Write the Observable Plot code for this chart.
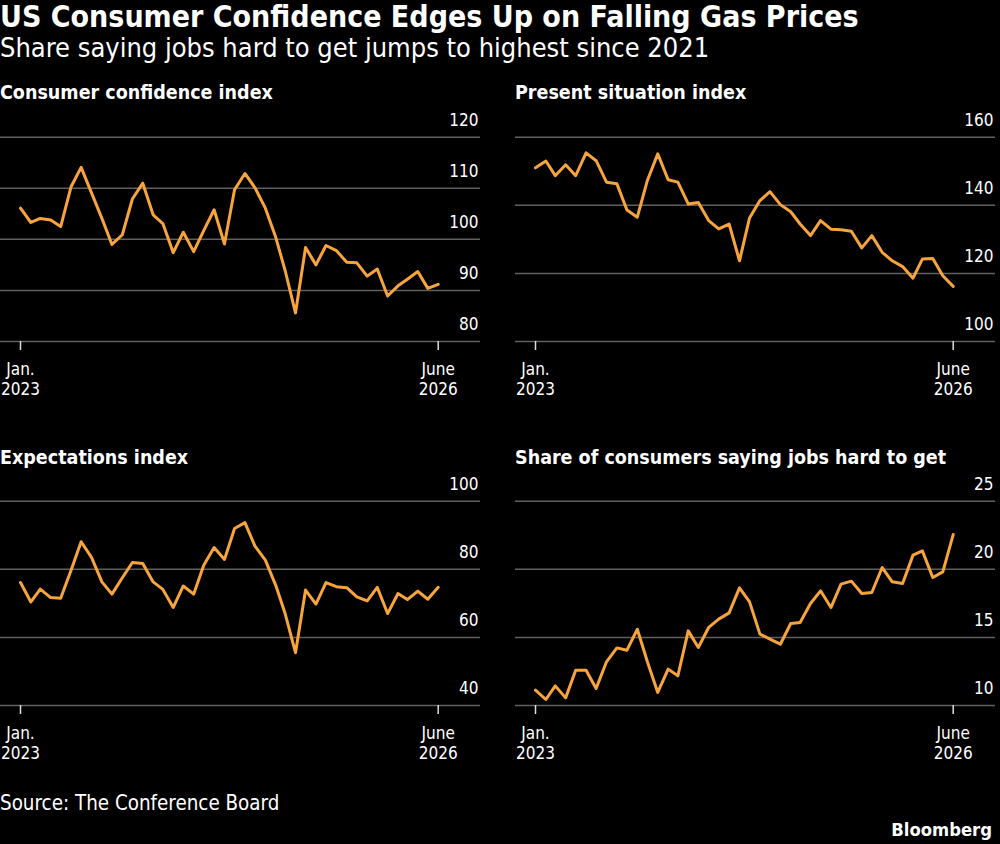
<!DOCTYPE html>
<html>
<head>
<meta charset="utf-8">
<script src="https://cdn.jsdelivr.net/npm/d3@7"></script>
<script src="https://cdn.jsdelivr.net/npm/@observablehq/plot@0.6"></script>
<style>
  html, body { margin: 0; padding: 0; background: #000; }
  body { width: 1000px; height: 844px; position: relative; overflow: hidden;
         font-family: "DejaVu Sans Condensed", "DejaVu Sans", sans-serif; color: #fff; }
  .abs { position: absolute; white-space: nowrap; }
  #title { left: 0; top: 0px; font-size: 30px; font-weight: bold; line-height: 34px; }
  #subtitle { left: 0; top: 32px; font-size: 27px; line-height: 32px; }
  .ptitle { font-size: 19.5px; font-weight: bold; line-height: 24px; }
  #source { left: 0; top: 791px; font-size: 20.4px; line-height: 24px; }
  #brand { right: 8px; top: 819px; font-size: 18.3px; font-weight: bold; line-height: 22px; }
  .panel { position: absolute; }
</style>
</head>
<body>
<div id="title" class="abs">US Consumer Confidence Edges Up on Falling Gas Prices</div>
<div id="subtitle" class="abs">Share saying jobs hard to get jumps to highest since 2021</div>
<div class="abs ptitle" style="left:0;top:81px">Consumer confidence index</div>
<div class="abs ptitle" style="left:515px;top:81px">Present situation index</div>
<div class="abs ptitle" style="left:0;top:446px">Expectations index</div>
<div class="abs ptitle" style="left:515px;top:446px">Share of consumers saying jobs hard to get</div>
<div id="p1" class="panel" style="left:0;top:100px"></div>
<div id="p2" class="panel" style="left:515px;top:100px"></div>
<div id="p3" class="panel" style="left:0;top:464px"></div>
<div id="p4" class="panel" style="left:515px;top:464px"></div>
<div id="source" class="abs">Source: The Conference Board</div>
<div id="brand" class="abs">Bloomberg</div>
<script>
// Monthly observations, Jan. 2023 – June 2026
const months = d3.utcMonth.range(new Date(Date.UTC(2023, 0, 1)), new Date(Date.UTC(2026, 6, 1)));

const confidence = [106.1, 103.3, 104.1, 103.8, 102.5, 110.3, 114.1, 109.1, 104.1, 99.0,
  100.9, 107.9, 111.0, 104.8, 103.1, 97.4, 101.4, 97.6, 101.7, 105.8,
  99.1, 109.7, 112.9, 110.1, 106.1, 100.4, 93.9, 85.6, 98.4, 95.0,
  98.8, 97.8, 95.5, 95.4, 92.8, 94.2, 88.9, 90.9, 92.2, 93.7, 90.4, 91.2];

const presentSituation = [151.0, 153.0, 148.7, 151.9, 148.7, 155.4, 153.1, 146.8, 146.3, 138.6,
  136.5, 147.3, 155.1, 147.5, 146.8, 140.4, 140.8, 135.5, 133.1, 134.5,
  123.7, 136.3, 141.4, 144.0, 140.2, 138.1, 134.5, 131.1, 135.5, 133.0,
  132.8, 132.4, 127.5, 131.1, 126.2, 123.7, 122.0, 118.6, 124.2, 124.4, 119.3, 116.2];

const expectations = [76.1, 70.4, 74.2, 71.7, 71.5, 79.7, 88.1, 83.5, 76.3, 72.7,
  77.5, 82.0, 81.7, 76.3, 74.1, 68.8, 75.1, 72.7, 81.2, 86.4,
  82.9, 92.0, 93.7, 86.8, 82.7, 75.3, 67.0, 55.5, 73.9, 69.8,
  76.1, 74.9, 74.6, 71.9, 70.7, 74.7, 67.0, 72.9, 71.1, 73.6, 71.2, 74.7];

const jobsHardToGet = [11.13, 10.44, 11.44, 10.56, 12.59, 12.59, 11.25, 13.21, 14.23, 14.06,
  15.60, 13.21, 10.96, 12.67, 12.18, 15.48, 14.26, 15.73, 16.34, 16.80,
  18.64, 17.61, 15.24, 14.87, 14.50, 16.02, 16.09, 17.49, 18.42, 17.19,
  18.91, 19.13, 18.22, 18.30, 20.13, 19.08, 18.96, 21.04, 21.35, 19.40, 19.81, 22.55];

const yTicks1 = [80, 90, 100, 110, 120];
const yTicks2 = [100, 120, 140, 160];
const yTicks3 = [40, 60, 80, 100];
const yTicks4 = [10, 15, 20, 25];
const xTicks = [months[0], months[months.length - 1]];
const xTickLabels = ["Jan.\n2023", "June\n2026"];

const LINE = "#f7a43c";
const GRID = "#606060";
const FONT = '"DejaVu Sans Condensed", "DejaVu Sans", sans-serif';

function panel(values, ticks) {
  const data = months.map((d, i) => ({date: d, value: values[i]}));
  return Plot.plot({
    width: 480,
    height: 300,
    marginLeft: 0,
    marginRight: 0,
    marginTop: 36.7,
    marginBottom: 59,
    style: {background: "transparent", color: "#fff", fontFamily: FONT, fontSize: "17px"},
    x: {type: "utc", domain: [months[0], months[months.length - 1]], range: [20, 437.7], axis: null},
    y: {domain: [ticks[0], ticks[ticks.length - 1]], axis: null},
    marks: [
      Plot.ruleY(ticks, {stroke: GRID, strokeWidth: 1.5}),
      Plot.text(ticks, {y: d => d, text: d => String(d), frameAnchor: "right", textAnchor: "end",
        dx: -2, dy: -17, fill: "#fff", fontSize: 17}),
      Plot.axisX({ticks: xTicks, tickFormat: (d, i) => xTickLabels[i], tickSize: 9, tickPadding: 11,
        fontSize: 17, lineHeight: 1.15, stroke: "#ddd", strokeWidth: 1.5, fill: "#fff", anchor: "bottom"}),
      Plot.line(data, {x: "date", y: "value", stroke: LINE, strokeWidth: 3, strokeLinejoin: "round", strokeLinecap: "round"})
    ]
  });
}

document.getElementById("p1").appendChild(panel(confidence, yTicks1));
document.getElementById("p2").appendChild(panel(presentSituation, yTicks2));
document.getElementById("p3").appendChild(panel(expectations, yTicks3));
document.getElementById("p4").appendChild(panel(jobsHardToGet, yTicks4));
</script>
</body>
</html>
